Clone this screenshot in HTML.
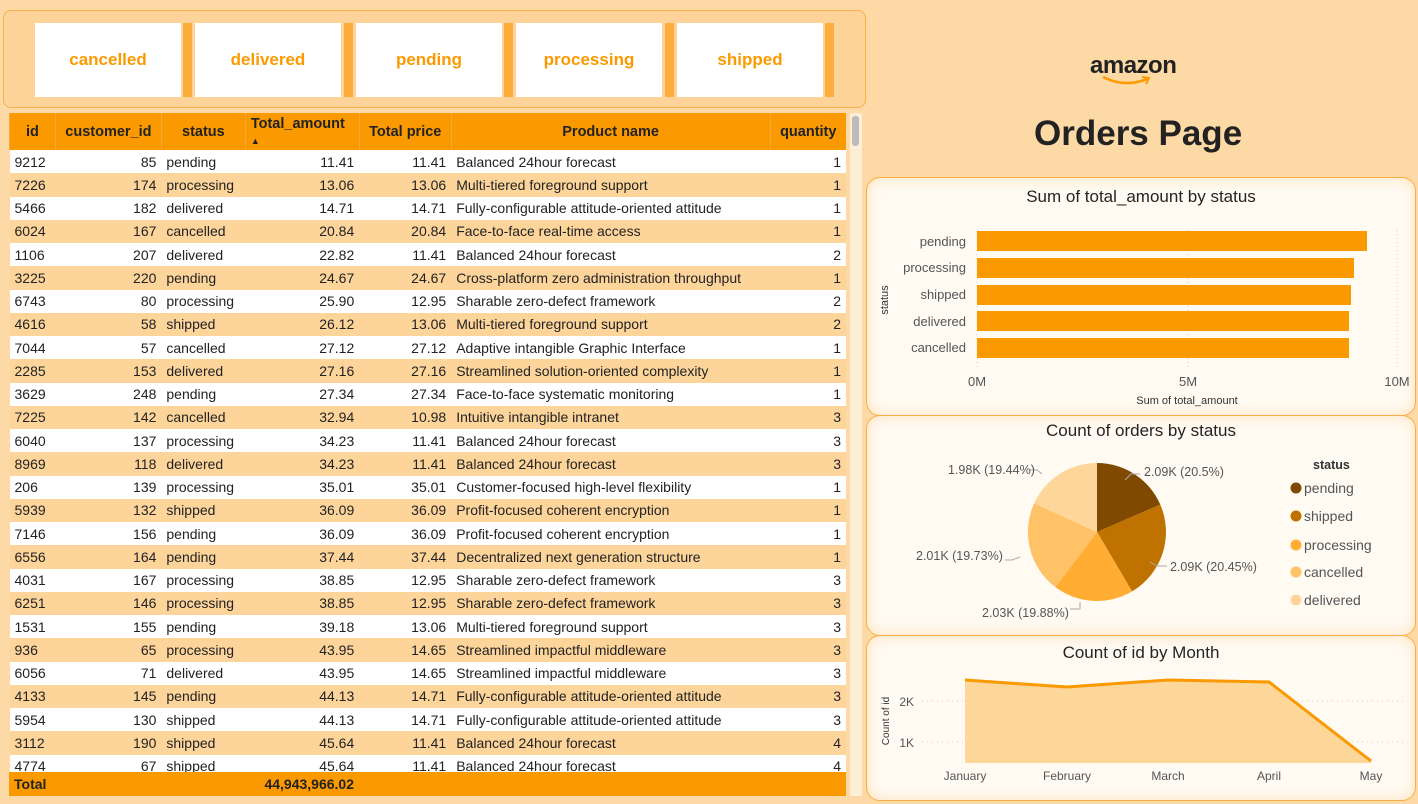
<!DOCTYPE html>
<html><head><meta charset="utf-8"><style>
body{margin:0;width:1418px;height:804px;background:#fdd9a5;font-family:"Liberation Sans",sans-serif;position:relative;overflow:hidden}
.abs{position:absolute}
.slicer{left:3px;top:10px;width:861px;height:96px;border:1px solid #f7b04a;border-radius:8px;background:#fdd39a}
.box{position:absolute;top:12px;width:146px;height:74px;background:#fff;color:#fb9a00;font-weight:bold;font-size:17px;text-align:center;line-height:74px}
.bar{position:absolute;top:12px;width:9px;height:74px;background:#fcae3c}
table{border-collapse:collapse;position:absolute;left:9px;top:113px;width:837px;font-size:14px;color:#222}
td,th{padding:0 5px;white-space:nowrap;height:23.25px;box-sizing:border-box}
th{background:#fb9900;height:37px;font-size:14.5px;color:#222;font-weight:bold;vertical-align:middle;border-left:1px solid #f9a93a}
tr:nth-child(even) td{background:#fff}
tr:nth-child(odd) td{background:#fdd59b}
td.r{text-align:right}
.card{position:absolute;left:866px;width:548px;border:1px solid #f9ad45;border-radius:14px;background:#fffaf2;box-shadow:inset 0 0 14px #fde2bb}
.t{position:absolute;width:100%;text-align:center;font-size:17px;color:#252423}
svg text{font-family:"Liberation Sans",sans-serif}
</style></head><body>
<div class="abs slicer">
<div class="box" style="left:31px">cancelled</div><div class="bar" style="left:179px"></div>
<div class="box" style="left:191px">delivered</div><div class="bar" style="left:340px"></div>
<div class="box" style="left:352px">pending</div><div class="bar" style="left:500px"></div>
<div class="box" style="left:512px">processing</div><div class="bar" style="left:661px"></div>
<div class="box" style="left:673px">shipped</div><div class="bar" style="left:821px"></div>
</div>
<table>
<colgroup><col style="width:46px"><col style="width:106px"><col style="width:84px"><col style="width:114px"><col style="width:92px"><col style="width:319px"><col style="width:76px"></colgroup>
<tr><th>id</th><th>customer_id</th><th>status</th><th style="text-align:left">Total_amount<br><span style="font-size:9px">▲</span></th><th>Total price</th><th>Product name</th><th>quantity</th></tr>
<tr><td>9212</td><td class="r">85</td><td>pending</td><td class="r">11.41</td><td class="r">11.41</td><td>Balanced 24hour forecast</td><td class="r">1</td></tr>
<tr><td>7226</td><td class="r">174</td><td>processing</td><td class="r">13.06</td><td class="r">13.06</td><td>Multi-tiered foreground support</td><td class="r">1</td></tr>
<tr><td>5466</td><td class="r">182</td><td>delivered</td><td class="r">14.71</td><td class="r">14.71</td><td>Fully-configurable attitude-oriented attitude</td><td class="r">1</td></tr>
<tr><td>6024</td><td class="r">167</td><td>cancelled</td><td class="r">20.84</td><td class="r">20.84</td><td>Face-to-face real-time access</td><td class="r">1</td></tr>
<tr><td>1106</td><td class="r">207</td><td>delivered</td><td class="r">22.82</td><td class="r">11.41</td><td>Balanced 24hour forecast</td><td class="r">2</td></tr>
<tr><td>3225</td><td class="r">220</td><td>pending</td><td class="r">24.67</td><td class="r">24.67</td><td>Cross-platform zero administration throughput</td><td class="r">1</td></tr>
<tr><td>6743</td><td class="r">80</td><td>processing</td><td class="r">25.90</td><td class="r">12.95</td><td>Sharable zero-defect framework</td><td class="r">2</td></tr>
<tr><td>4616</td><td class="r">58</td><td>shipped</td><td class="r">26.12</td><td class="r">13.06</td><td>Multi-tiered foreground support</td><td class="r">2</td></tr>
<tr><td>7044</td><td class="r">57</td><td>cancelled</td><td class="r">27.12</td><td class="r">27.12</td><td>Adaptive intangible Graphic Interface</td><td class="r">1</td></tr>
<tr><td>2285</td><td class="r">153</td><td>delivered</td><td class="r">27.16</td><td class="r">27.16</td><td>Streamlined solution-oriented complexity</td><td class="r">1</td></tr>
<tr><td>3629</td><td class="r">248</td><td>pending</td><td class="r">27.34</td><td class="r">27.34</td><td>Face-to-face systematic monitoring</td><td class="r">1</td></tr>
<tr><td>7225</td><td class="r">142</td><td>cancelled</td><td class="r">32.94</td><td class="r">10.98</td><td>Intuitive intangible intranet</td><td class="r">3</td></tr>
<tr><td>6040</td><td class="r">137</td><td>processing</td><td class="r">34.23</td><td class="r">11.41</td><td>Balanced 24hour forecast</td><td class="r">3</td></tr>
<tr><td>8969</td><td class="r">118</td><td>delivered</td><td class="r">34.23</td><td class="r">11.41</td><td>Balanced 24hour forecast</td><td class="r">3</td></tr>
<tr><td>206</td><td class="r">139</td><td>processing</td><td class="r">35.01</td><td class="r">35.01</td><td>Customer-focused high-level flexibility</td><td class="r">1</td></tr>
<tr><td>5939</td><td class="r">132</td><td>shipped</td><td class="r">36.09</td><td class="r">36.09</td><td>Profit-focused coherent encryption</td><td class="r">1</td></tr>
<tr><td>7146</td><td class="r">156</td><td>pending</td><td class="r">36.09</td><td class="r">36.09</td><td>Profit-focused coherent encryption</td><td class="r">1</td></tr>
<tr><td>6556</td><td class="r">164</td><td>pending</td><td class="r">37.44</td><td class="r">37.44</td><td>Decentralized next generation structure</td><td class="r">1</td></tr>
<tr><td>4031</td><td class="r">167</td><td>processing</td><td class="r">38.85</td><td class="r">12.95</td><td>Sharable zero-defect framework</td><td class="r">3</td></tr>
<tr><td>6251</td><td class="r">146</td><td>processing</td><td class="r">38.85</td><td class="r">12.95</td><td>Sharable zero-defect framework</td><td class="r">3</td></tr>
<tr><td>1531</td><td class="r">155</td><td>pending</td><td class="r">39.18</td><td class="r">13.06</td><td>Multi-tiered foreground support</td><td class="r">3</td></tr>
<tr><td>936</td><td class="r">65</td><td>processing</td><td class="r">43.95</td><td class="r">14.65</td><td>Streamlined impactful middleware</td><td class="r">3</td></tr>
<tr><td>6056</td><td class="r">71</td><td>delivered</td><td class="r">43.95</td><td class="r">14.65</td><td>Streamlined impactful middleware</td><td class="r">3</td></tr>
<tr><td>4133</td><td class="r">145</td><td>pending</td><td class="r">44.13</td><td class="r">14.71</td><td>Fully-configurable attitude-oriented attitude</td><td class="r">3</td></tr>
<tr><td>5954</td><td class="r">130</td><td>shipped</td><td class="r">44.13</td><td class="r">14.71</td><td>Fully-configurable attitude-oriented attitude</td><td class="r">3</td></tr>
<tr><td>3112</td><td class="r">190</td><td>shipped</td><td class="r">45.64</td><td class="r">11.41</td><td>Balanced 24hour forecast</td><td class="r">4</td></tr>
<tr><td>4774</td><td class="r">67</td><td>shipped</td><td class="r">45.64</td><td class="r">11.41</td><td>Balanced 24hour forecast</td><td class="r">4</td></tr>
</table>
<div class="abs" style="left:9px;top:772px;width:837px;height:24px;background:#fb9900;font-weight:bold;font-size:14px;line-height:24px;color:#222"><span style="position:absolute;left:5px">Total</span><span style="position:absolute;left:245px;width:100px;text-align:right">44,943,966.02</span></div>
<div class="abs" style="left:850px;top:113px;width:12px;height:683px;background:#fdeed8"></div>
<div class="abs" style="left:852px;top:116px;width:7px;height:30px;background:#bbb;border-radius:3px"></div>
<div class="abs" style="left:1090px;top:52px;font-size:24px;font-weight:bold;color:#222;letter-spacing:-0.5px">amazon</div>
<svg class="abs" style="left:1100px;top:74px" width="60" height="14"><path d="M3 3 Q25 14 47 5" stroke="#f90" stroke-width="2.5" fill="none"/><path d="M42 3 L49 4 L46 10" stroke="#f90" stroke-width="2" fill="none"/></svg>
<div class="abs" style="left:1034px;top:114px;font-size:35px;font-weight:bold;color:#222">Orders Page</div>

<div class="card" style="top:177px;height:237px">
<div class="t" style="top:9px">Sum of total_amount by status</div>
<svg class="abs" style="left:0;top:0" width="548" height="237">
<g stroke="#ccc" stroke-dasharray="1,3"><line x1="110" y1="52" x2="110" y2="192"/><line x1="321" y1="52" x2="321" y2="192"/><line x1="530" y1="52" x2="530" y2="192"/></g>
<g fill="#fb9900"><rect x="110" y="53" width="390" height="20"/><rect x="110" y="80" width="377" height="20"/><rect x="110" y="107" width="374" height="20"/><rect x="110" y="133" width="372" height="20"/><rect x="110" y="160" width="372" height="20"/></g>
<g font-size="13" fill="#555" text-anchor="end"><text x="99" y="68">pending</text><text x="99" y="94">processing</text><text x="99" y="121">shipped</text><text x="99" y="148">delivered</text><text x="99" y="174">cancelled</text></g>
<g font-size="13" fill="#555" text-anchor="middle"><text x="110" y="208">0M</text><text x="321" y="208">5M</text><text x="530" y="208">10M</text></g>
<text x="320" y="226" font-size="11" fill="#333" text-anchor="middle">Sum of total_amount</text>
<text transform="translate(21,122) rotate(-90)" font-size="11" fill="#333" text-anchor="middle">status</text>
</svg></div>

<div class="card" style="top:415px;height:219px">
<div class="t" style="top:5px">Count of orders by status</div>
<svg class="abs" style="left:0;top:0" width="548" height="219">
<g transform="translate(230,116)">
<path d="M0 0 L0 -69 A69 69 0 0 1 63.3 -27.4 Z" fill="#7f4a00"/>
<path d="M0 0 L63.3 -27.4 A69 69 0 0 1 35.1 59.4 Z" fill="#c07200"/>
<path d="M0 0 L35.1 59.4 A69 69 0 0 1 -41.7 55 Z" fill="#ffad33"/>
<path d="M0 0 L-41.7 55 A69 69 0 0 1 -62.8 -28.7 Z" fill="#ffc266"/>
<path d="M0 0 L-62.8 -28.7 A69 69 0 0 1 0 -69 Z" fill="#ffd699"/>
</g>
<g stroke="#aaa" fill="none"><path d="M258 64 L264 58 L273 58"/><path d="M175 58 L170 54 L163 54"/><path d="M283 146 L290 150 L300 150"/><path d="M153 141 L145 144 L138 144"/><path d="M213 186 L213 193 L203 193"/></g>
<g font-size="12.5" fill="#555"><text x="277" y="60">2.09K (20.5%)</text><text x="81" y="58">1.98K (19.44%)</text><text x="303" y="155">2.09K (20.45%)</text><text x="49" y="144">2.01K (19.73%)</text><text x="115" y="201">2.03K (19.88%)</text></g>
<text x="446" y="53" font-size="12.5" font-weight="bold" fill="#333">status</text>
<g font-size="14" fill="#555"><circle cx="429" cy="72" r="5.5" fill="#7f4a00"/><text x="437" y="77">pending</text>
<circle cx="429" cy="100" r="5.5" fill="#c07200"/><text x="437" y="105">shipped</text>
<circle cx="429" cy="129" r="5.5" fill="#ffad33"/><text x="437" y="134">processing</text>
<circle cx="429" cy="156" r="5.5" fill="#ffc266"/><text x="437" y="161">cancelled</text>
<circle cx="429" cy="184" r="5.5" fill="#ffd699"/><text x="437" y="189">delivered</text></g>
</svg></div>

<div class="card" style="top:635px;height:164px">
<div class="t" style="top:7px">Count of id by Month</div>
<svg class="abs" style="left:0;top:0" width="548" height="164">
<g stroke="#ccc" stroke-dasharray="1,4"><line x1="55" y1="65" x2="540" y2="65"/><line x1="55" y1="106" x2="540" y2="106"/></g>
<path d="M98 44 L200 51 L301 44 L402 46 L504 125 L504 127 L98 127 Z" fill="#fdd699"/>
<path d="M98 44 L200 51 L301 44 L402 46 L504 125" stroke="#fb9900" stroke-width="3" fill="none"/>
<g font-size="12" fill="#555" text-anchor="end"><text x="47" y="70">2K</text><text x="47" y="111">1K</text></g>
<g font-size="12" fill="#555" text-anchor="middle"><text x="98" y="144">January</text><text x="200" y="144">February</text><text x="301" y="144">March</text><text x="402" y="144">April</text><text x="504" y="144">May</text></g>
<text transform="translate(22,85) rotate(-90)" font-size="10" fill="#333" text-anchor="middle">Count of id</text>
</svg></div>
</body></html>
